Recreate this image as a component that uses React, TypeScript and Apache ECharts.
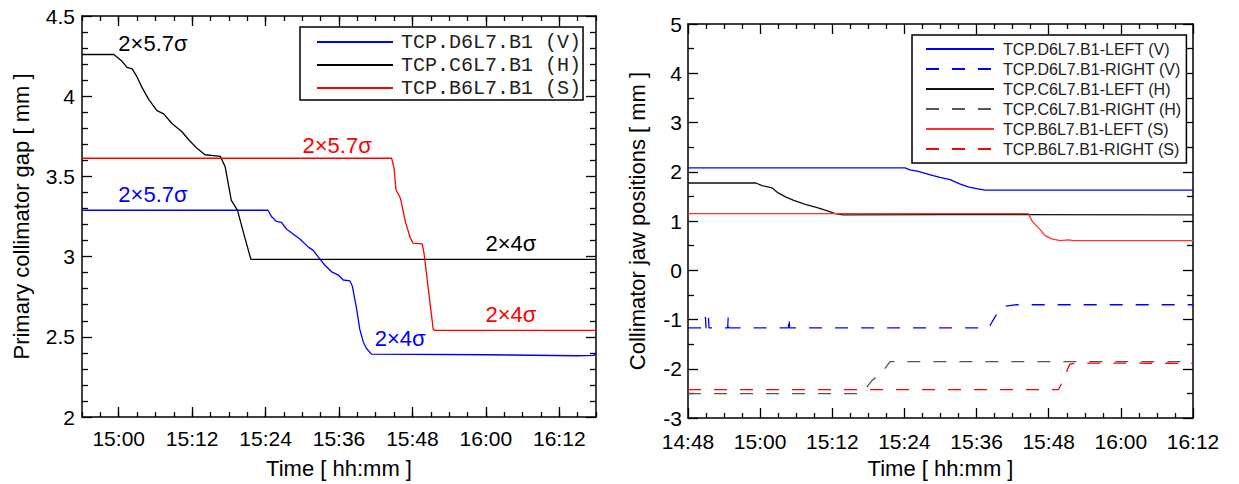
import React, { useEffect, useRef } from "react";
import * as echarts from "echarts";

// ---------- DATA (time in minutes since midnight, value in mm) ----------
const LEFT_X_TICKS = [900, 912, 924, 936, 948, 960, 972];

const GAP_V: [number, number][] = [
  [894, 3.289], [924.4, 3.289], [925.0, 3.248], [925.8, 3.219], [926.6, 3.213], [927.4, 3.172],
  [928.5, 3.141], [929.6, 3.11], [931.0, 3.059], [931.8, 3.039], [932.6, 2.998], [933.7, 2.946],
  [934.8, 2.905], [935.9, 2.885], [936.7, 2.854], [937.8, 2.848], [938.2, 2.813], [938.6, 2.731],
  [938.9, 2.669], [939.4, 2.546], [940.0, 2.464], [940.5, 2.427], [941.3, 2.392], [960, 2.388],
  [975, 2.382], [977.6, 2.384], [978, 2.392],
];
const GAP_H: [number, number][] = [
  [894, 4.26], [899.2, 4.26], [900.5, 4.22], [901.35, 4.18], [902.2, 4.17], [903.0, 4.12],
  [903.8, 4.055], [904.9, 3.98], [906.25, 3.91], [907.35, 3.89], [908.7, 3.83], [910.3, 3.78],
  [911.4, 3.73], [912.8, 3.675], [914.1, 3.635], [915.5, 3.63], [916.6, 3.625], [917.4, 3.56],
  [918.4, 3.35], [919.4, 3.29], [920.6, 3.12], [921.6, 2.983], [978, 2.983],
];
const GAP_S: [number, number][] = [
  [894, 3.613], [944.6, 3.613], [945.0, 3.552], [945.3, 3.418], [946.0, 3.367], [946.2, 3.336],
  [946.8, 3.224], [947.6, 3.121], [948.1, 3.084], [949.6, 3.079], [949.9, 3.018], [951.4, 2.546],
  [951.7, 2.54], [978, 2.54],
];

const LEFT_NOTES_V = [
  { text: "2×5.7σ", coord: [905.6, 3.39] },
  { text: "2×4σ", coord: [946, 2.49] },
];
const LEFT_NOTES_H = [
  { text: "2×5.7σ", coord: [905.6, 4.33] },
  { text: "2×4σ", coord: [964.1, 3.08] },
];
const LEFT_NOTES_S = [
  { text: "2×5.7σ", coord: [935.7, 3.69] },
  { text: "2×4σ", coord: [964.1, 2.64] },
];

const V_LEFT: [number, number][] = [
  [888, 2.08], [924.1, 2.08], [924.9, 2.039], [926.3, 2.006], [928.3, 1.939], [929.9, 1.886],
  [931.6, 1.839], [933.2, 1.752], [934.6, 1.692], [936.0, 1.659], [937.4, 1.625], [972, 1.625],
];
const V_RIGHT: [number, number][] = [
  [888, -1.17], [890.8, -1.17], [890.9, -0.95], [891.0, -1.17], [891.3, -1.17], [891.4, -0.95],
  [891.5, -1.17], [894.6, -1.17], [894.7, -0.92], [894.8, -1.17], [904.7, -1.17], [904.8, -0.93],
  [904.9, -1.17], [938.0, -1.17], [939.2, -0.92], [940.5, -0.734], [942.7, -0.70], [972, -0.70],
];
const H_LEFT: [number, number][] = [
  [888, 1.772], [899.3, 1.772], [900.3, 1.718], [902.0, 1.672], [903.0, 1.571], [904.3, 1.485],
  [905.6, 1.418], [907.5, 1.337], [909.5, 1.271], [911.2, 1.204], [912.5, 1.15], [913.8, 1.124],
  [930, 1.13], [972, 1.125],
];
const H_RIGHT: [number, number][] = [
  [888, -2.505], [916.9, -2.505], [918.6, -2.238], [920.2, -2.084], [921.6, -1.857], [972, -1.857],
];
const S_LEFT: [number, number][] = [
  [888, 1.15], [944.6, 1.15], [945.2, 1.004], [945.7, 0.937], [946.5, 0.836], [947.4, 0.703],
  [948.5, 0.636], [949.9, 0.603], [951.3, 0.616], [952.1, 0.603], [972, 0.6],
];
const S_RIGHT: [number, number][] = [
  [888, -2.425], [949.6, -2.425], [950.4, -2.238], [951.5, -1.904], [952.7, -1.884], [972, -1.89],
];

// ---------- helpers ----------
const SANS = "'Liberation Sans', Arial, Helvetica, sans-serif";
const MONO = "'Liberation Mono', 'Courier New', monospace";
const BLUE = "#0000ff";
const RED = "#ff0000";

const fmt = (v: number) => {
  const h = Math.floor(v / 60);
  const m = Math.round(v - h * 60);
  return `${h}:${m < 10 ? "0" : ""}${m}`;
};

const frameLine = { show: true, onZero: false, lineStyle: { color: "#000", width: 1.5 } };
const tickStyle = { color: "#000", width: 1.3 };

function notes(list: { text: string; coord: number[] }[], color: string) {
  return {
    symbol: "circle",
    symbolSize: 1,
    itemStyle: { color: "transparent" },
    label: { show: true, position: "inside", color, fontSize: 22, fontFamily: SANS },
    data: list.map((n) => ({ coord: n.coord, label: { formatter: n.text } })),
  };
}

function line(name: string, data: [number, number][], color: string, xi: number, yi: number, dashed = false, extra: any = {}) {
  return {
    name,
    type: "line",
    xAxisIndex: xi,
    yAxisIndex: yi,
    data,
    symbol: "none",
    showSymbol: false,
    clip: true,
    lineStyle: { color, width: 1.3, type: dashed ? [13, 13] : "solid" },
    itemStyle: { color },
    emphasis: { disabled: true },
    ...extra,
  };
}

const legendSymbolHidden = { opacity: 0, color: "transparent", borderWidth: 0 };

export default function App() {
  const ref = useRef<HTMLDivElement>(null);
  useEffect(() => {
    if (!ref.current) return;
    const chart = echarts.init(ref.current, undefined, { renderer: "svg" });
    const option: any = {
      animation: false,
      backgroundColor: "#fff",
      textStyle: { fontFamily: SANS },
      grid: [
        { left: 82, top: 16, width: 514, height: 406 },
        { left: 688, top: 24, width: 505, height: 399 },
      ],
      legend: [
        {
          data: ["TCP.D6L7.B1 (V)", "TCP.C6L7.B1 (H)", "TCP.B6L7.B1 (S)"],
          orient: "vertical",
          left: 300,
          top: 27,
          itemWidth: 76,
          itemHeight: 14,
          itemGap: 3,
          itemStyle: legendSymbolHidden,
          padding: [5, 2, 2, 16],
          borderColor: "#000",
          borderWidth: 1.5,
          backgroundColor: "#fff",
          selectedMode: false,
          textStyle: { fontFamily: MONO, fontSize: 20, color: "#222", padding: [0, 0, 0, 3] },
        },
        {
          data: [
            "TCP.D6L7.B1-LEFT (V)", "TCP.D6L7.B1-RIGHT (V)", "TCP.C6L7.B1-LEFT (H)",
            "TCP.C6L7.B1-RIGHT (H)", "TCP.B6L7.B1-LEFT (S)", "TCP.B6L7.B1-RIGHT (S)",
          ],
          orient: "vertical",
          left: 912,
          top: 35,
          itemWidth: 68,
          itemHeight: 14,
          itemGap: 4,
          itemStyle: legendSymbolHidden,
          padding: [6, 5, 6, 13],
          borderColor: "#000",
          borderWidth: 1.5,
          backgroundColor: "#fff",
          selectedMode: false,
          textStyle: { fontFamily: SANS, fontSize: 16, color: "#222", padding: [0, 0, 0, 4] },
        },
      ],
      xAxis: [
        {
          type: "value", gridIndex: 0, position: "bottom", min: 894, max: 978,
          axisLine: frameLine,
          axisTick: { show: true, inside: true, length: 10, customValues: LEFT_X_TICKS, lineStyle: tickStyle },
          axisLabel: { show: true, customValues: LEFT_X_TICKS, formatter: fmt, fontSize: 21, color: "#000", margin: 11, fontFamily: SANS },
          splitLine: { show: false },
          name: "Time [ hh:mm ]", nameLocation: "middle", nameGap: 40,
          nameTextStyle: { fontSize: 22, color: "#000", fontFamily: SANS },
        },
        {
          type: "value", gridIndex: 0, position: "bottom", min: 894, max: 978, interval: 3,
          axisLine: { show: false, onZero: false },
          axisTick: { show: true, inside: true, length: 5, lineStyle: tickStyle },
          axisLabel: { show: false }, splitLine: { show: false },
        },
        {
          type: "value", gridIndex: 0, position: "top", min: 894, max: 978,
          axisLine: frameLine,
          axisTick: { show: true, inside: true, length: 10, customValues: LEFT_X_TICKS, lineStyle: tickStyle },
          axisLabel: { show: false }, splitLine: { show: false },
        },
        {
          type: "value", gridIndex: 0, position: "top", min: 894, max: 978, interval: 3,
          axisLine: { show: false, onZero: false },
          axisTick: { show: true, inside: true, length: 5, lineStyle: tickStyle },
          axisLabel: { show: false }, splitLine: { show: false },
        },
        {
          type: "value", gridIndex: 1, position: "bottom", min: 888, max: 972, interval: 12,
          axisLine: frameLine,
          axisTick: { show: true, inside: true, length: 10, lineStyle: tickStyle },
          minorTick: { show: true, splitNumber: 4, length: 5, lineStyle: tickStyle },
          axisLabel: { show: true, formatter: fmt, fontSize: 21, color: "#000", margin: 13, fontFamily: SANS },
          splitLine: { show: false },
          name: "Time [ hh:mm ]", nameLocation: "middle", nameGap: 39,
          nameTextStyle: { fontSize: 22, color: "#000", fontFamily: SANS },
        },
        {
          type: "value", gridIndex: 1, position: "top", min: 888, max: 972, interval: 12,
          axisLine: frameLine,
          axisTick: { show: true, inside: true, length: 10, lineStyle: tickStyle },
          minorTick: { show: true, splitNumber: 4, length: 5, lineStyle: tickStyle },
          axisLabel: { show: false }, splitLine: { show: false },
        },
      ],
      yAxis: [
        {
          type: "value", gridIndex: 0, position: "left", min: 2, max: 4.5, interval: 0.5,
          axisLine: frameLine,
          axisTick: { show: true, inside: true, length: 10, lineStyle: tickStyle },
          minorTick: { show: true, splitNumber: 5, length: 6, lineStyle: tickStyle },
          axisLabel: { show: true, fontSize: 21, color: "#000", margin: 7, fontFamily: SANS },
          splitLine: { show: false },
          name: "Primary collimator gap [ mm ]", nameLocation: "middle", nameGap: 50,
          nameTextStyle: { fontSize: 22, color: "#000", fontFamily: SANS },
        },
        {
          type: "value", gridIndex: 0, position: "right", min: 2, max: 4.5, interval: 0.5,
          axisLine: frameLine,
          axisTick: { show: true, inside: true, length: 10, lineStyle: tickStyle },
          minorTick: { show: true, splitNumber: 5, length: 6, lineStyle: tickStyle },
          axisLabel: { show: false }, splitLine: { show: false },
        },
        {
          type: "value", gridIndex: 1, position: "left", min: -3, max: 5, interval: 1,
          axisLine: frameLine,
          axisTick: { show: true, inside: true, length: 10, lineStyle: tickStyle },
          minorTick: { show: true, splitNumber: 2, length: 6, lineStyle: tickStyle },
          axisLabel: { show: true, fontSize: 21, color: "#000", margin: 6, fontFamily: SANS },
          splitLine: { show: false },
          name: "Collimator jaw positions [ mm ]", nameLocation: "middle", nameGap: 40,
          nameTextStyle: { fontSize: 22, color: "#000", fontFamily: SANS },
        },
        {
          type: "value", gridIndex: 1, position: "right", min: -3, max: 5, interval: 1,
          axisLine: frameLine,
          axisTick: { show: true, inside: true, length: 10, lineStyle: tickStyle },
          minorTick: { show: true, splitNumber: 2, length: 6, lineStyle: tickStyle },
          axisLabel: { show: false }, splitLine: { show: false },
        },
      ],
      series: [
        line("TCP.D6L7.B1 (V)", GAP_V, BLUE, 0, 0, false, { markPoint: notes(LEFT_NOTES_V, BLUE) }),
        line("TCP.C6L7.B1 (H)", GAP_H, "#000", 0, 0, false, { markPoint: notes(LEFT_NOTES_H, "#000") }),
        line("TCP.B6L7.B1 (S)", GAP_S, RED, 0, 0, false, { markPoint: notes(LEFT_NOTES_S, RED) }),
        line("TCP.D6L7.B1-LEFT (V)", V_LEFT, BLUE, 4, 2),
        line("TCP.D6L7.B1-RIGHT (V)", V_RIGHT, BLUE, 4, 2, true),
        line("TCP.C6L7.B1-LEFT (H)", H_LEFT, "#111", 4, 2),
        line("TCP.C6L7.B1-RIGHT (H)", H_RIGHT, "#555", 4, 2, true),
        line("TCP.B6L7.B1-LEFT (S)", S_LEFT, "#ff3030", 4, 2),
        line("TCP.B6L7.B1-RIGHT (S)", S_RIGHT, RED, 4, 2, true),
      ],
    };
    chart.setOption(option);
    return () => chart.dispose();
  }, []);
  return (
    <div
      ref={ref}
      style={{ position: "fixed", left: 0, top: 0, width: 1239, height: 484, background: "#fff" }}
    />
  );
}
